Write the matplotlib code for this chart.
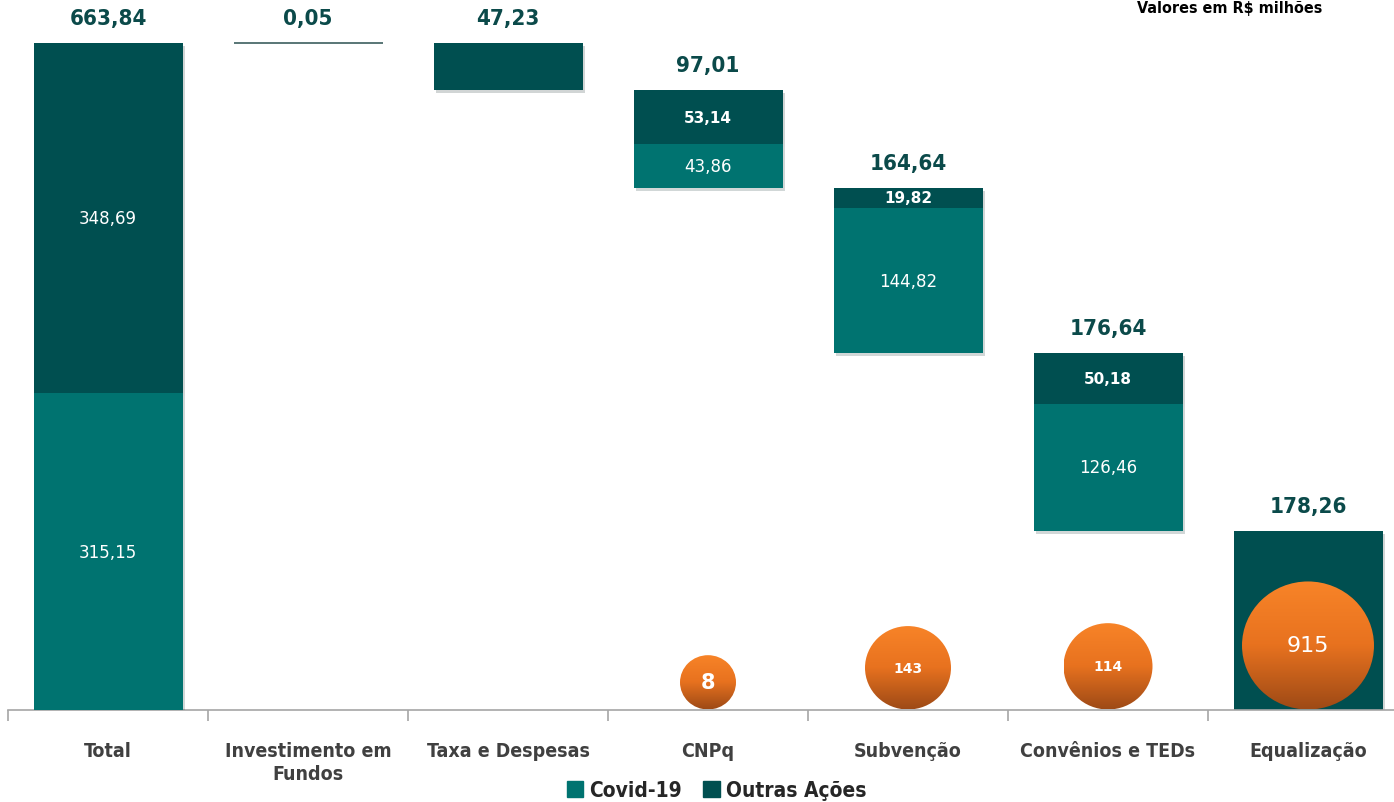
import numpy as np
import matplotlib
matplotlib.use("Agg")
import matplotlib.pyplot as plt
from matplotlib.patches import Ellipse, Patch
import matplotlib.patheffects as pe

categories = ["Total", "Investimento em\nFundos", "Taxa e Despesas", "CNPq",
              "Subvenção", "Convênios e TEDs", "Equalização"]
covid = [315.15, 0.0, 0.0, 43.86, 144.82, 126.46, 0.0]
outras = [348.69, 0.05, 47.23, 53.14, 19.82, 50.18, 178.26]
totals = [663.84, 0.05, 47.23, 97.01, 164.64, 176.64, 178.26]
bubble_idx = [3, 4, 5, 6]
bubble_vals = [8, 143, 114, 915]

COVID_C = "#007370"
OUTRAS_C = "#004F50"
LABEL_C = "#0B4A4A"
plt.rcParams['font.family'] = ['DejaVu Sans']


def fmt(v):
    return f"{v:.2f}".replace(".", ",")


fig = plt.figure(figsize=(13.94, 8.03), dpi=100)
# axes spans past right edge so last category is partly cut, as in reference
ax = fig.add_axes([8 / 1394, 92 / 803, 1400 / 1394, 703.5 / 803])

# waterfall: each bar hangs from what is left after the previous ones
bottoms = []
remaining = totals[0]
for i in range(len(categories)):
    if i == 0:
        bottoms.append(0.0)
    else:
        remaining -= covid[i] + outras[i]
        bottoms.append(remaining)

x = np.arange(len(categories))
w = 0.745
shadow = [pe.SimplePatchShadow(offset=(2, -2), alpha=0.18), pe.Normal()]
top_bottoms = [b + c for b, c in zip(bottoms, covid)]
obars = ax.bar(x, outras, w, bottom=top_bottoms, color=OUTRAS_C,
               path_effects=shadow, zorder=2)
ax.bar(x, covid, w, bottom=bottoms, color=COVID_C, path_effects=shadow, zorder=3)
# tiny bar (0,05) only shows as a line
obars[1].set_edgecolor("#3C5F5F")
obars[1].set_linewidth(1.2)

for i in range(len(categories)):
    top = covid[i] + outras[i] + bottoms[i]
    ax.annotate(fmt(totals[i]), (x[i], top), xytext=(0, 11), textcoords="offset points",
                ha="center", va="bottom", fontsize=16, fontweight="bold",
                fontstretch="condensed", color=LABEL_C)
    if covid[i] > 0:
        ax.text(x[i], bottoms[i] + covid[i] / 2, fmt(covid[i]), ha="center", va="center",
                fontsize=12, color="white", zorder=4)
        ax.text(x[i], top_bottoms[i] + outras[i] / 2, fmt(outras[i]), ha="center",
                va="center", fontsize=12 if i == 0 else 11,
                fontweight="normal" if i == 0 else "bold", color="white", zorder=4)

# orange bubbles with vertical gradient
diam_px = [56, 86, 89, 132]
px_x = 200.0
px_y = 703.5 / 700.0
grad = np.linspace(0, 1, 256).reshape(-1, 1)
cmap = matplotlib.colors.LinearSegmentedColormap.from_list("org", ["#F88428", "#E8721F", "#9E4A16"])
lbl_sizes = [15, 10, 10, 16]
lbl_weights = ["bold", "bold", "bold", "normal"]
for k, i in enumerate(bubble_idx):
    dx = diam_px[k] / px_x
    dy = diam_px[k] * 0.97 / px_y
    cy = dy / 2 + 0.5
    ell = Ellipse((x[i], cy), dx, dy, facecolor="none", edgecolor="none", zorder=5)
    ax.add_patch(ell)
    im = ax.imshow(grad, cmap=cmap, aspect="auto", zorder=5,
                   extent=(x[i] - dx / 2, x[i] + dx / 2, cy - dy / 2, cy + dy / 2))
    im.set_clip_path(ell)
    ax.text(x[i], cy, str(bubble_vals[k]), ha="center", va="center", color="white",
            fontsize=lbl_sizes[k], fontweight=lbl_weights[k], zorder=6)

ax.set_xlim(-0.5, len(categories) - 0.5)
ax.set_ylim(0, 700)
for s in ["top", "right", "left"]:
    ax.spines[s].set_visible(False)
ax.spines["bottom"].set_color("#A6A6A6")
ax.spines["bottom"].set_linewidth(1.2)
ax.set_yticks([])
ax.set_xticks(np.arange(len(categories) + 1) - 0.5, minor=True)
ax.tick_params(axis="x", which="minor", length=8, color="#A6A6A6", width=1.2)
ax.tick_params(axis="x", which="major", length=0, pad=22)
ax.set_xticks(x)
ax.set_xticklabels(categories, fontsize=14, fontweight="bold", color="#404040",
                   fontstretch="condensed", va="top", linespacing=1.3)

handles = [Patch(color=COVID_C, label="Covid-19"), Patch(color=OUTRAS_C, label="Outras Ações")]
fig.legend(handles=handles, loc="center", bbox_to_anchor=(0.514, 12 / 803), ncol=2,
           frameon=False, prop={"size": 15, "weight": "bold", "stretch": "condensed"},
           handlelength=0.8, handleheight=0.8, handletextpad=0.3, columnspacing=1.0,
           labelcolor="#262626")

fig.text(0.882, 1 - 1 / 803, "Valores em R$ milhões", ha="center", va="top",
         fontsize=11.5, fontweight="bold", fontstretch="condensed", color="black")

fig.savefig("out.png", dpi=100)
